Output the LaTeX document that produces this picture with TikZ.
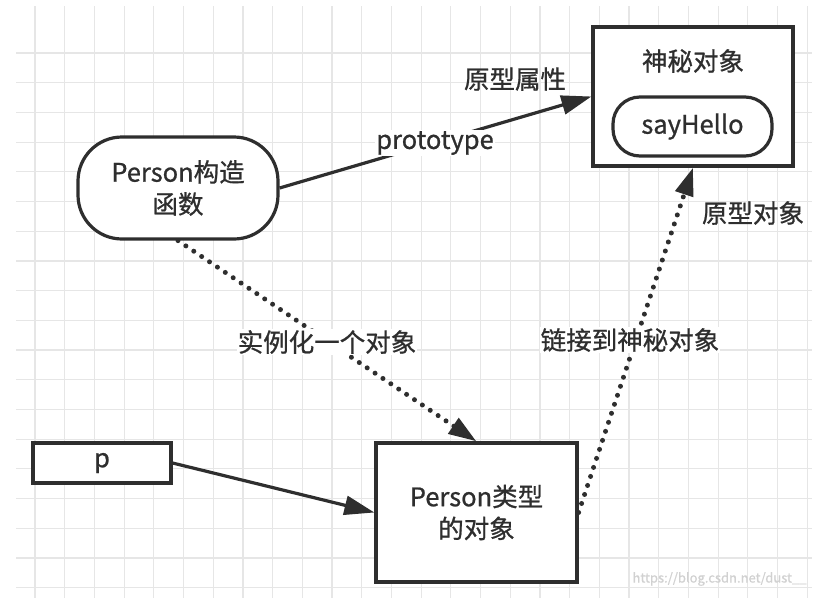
\documentclass[tikz,border=0pt]{standalone}
\usepackage{fontspec}
\setmainfont{Noto Sans CJK SC}[RawFeature={embolden=0.8}]
\usetikzlibrary{arrows.meta}
\definecolor{ink}{HTML}{2E2E2E}
\definecolor{gridc}{HTML}{E6E6E6}
\tikzset{
  boxsty/.style={draw=ink, line width=3.2pt, fill=white, inner sep=0pt, align=center, text=ink, font=\fontsize{25.5}{32}\selectfont},
  lbl/.style={text=ink, inner sep=1pt, font=\fontsize{25.5}{30}\selectfont},
  solidarrow/.style={draw=ink, line width=3.2pt, -{Triangle[length=30pt,width=19pt]}},
  dotarrow/.style={draw=ink, line width=5pt, line cap=round, dash pattern=on 0pt off 9.5pt, -{Triangle[length=28pt,width=18pt,line cap=butt]}},
}
\begin{document}
\begin{tikzpicture}[x=1pt,y=-1pt]
\useasboundingbox (0,0) rectangle (820,598);
% grid
\foreach \i in {0,...,26} {
  \draw[gridc, line width=1.2pt] ({35+29.7*\i},6) -- ({35+29.7*\i},598);
}
\foreach \j in {0,...,18} {
  \draw[gridc, line width=1.2pt] (16,{53+29.7*\j}) -- (812,{53+29.7*\j});
}
% nodes
\node[boxsty, minimum width=200pt, minimum height=102pt, rounded corners=44pt] (ctor) at (178,188) {Person构造\\函数};
\node[boxsty, minimum width=200pt, minimum height=139pt] (myst) at (693,96.5) {};
\node[lbl] (mysttitle) at (693,61) {神秘对象};
\node[boxsty, minimum width=159pt, minimum height=59pt, rounded corners=27pt] (hello) at (692.5,126.5) {sayHello};
\node[boxsty, minimum width=138pt, minimum height=40pt] (p) at (102,463) {p};
\node[boxsty, minimum width=201pt, minimum height=139pt] (obj) at (476.5,512.5) {Person类型\\的对象};
% connectors
\draw[solidarrow] (ctor.east) -- (myst.west);
\draw[dotarrow] (ctor.south) -- (obj.north);
\draw[solidarrow] (p.east) -- (obj.west);
\draw[dotarrow] (obj.east) -- (myst.south);
% labels
\node[lbl, fill=white] (lproto) at (435,143) {prototype};
\node[lbl] (lattr) at (515,79) {原型属性};
\node[lbl] (lpobj) at (753,213) {原型对象};
\node[lbl, fill=white] (linst) at (327,342) {实例化一个对象};
\node[lbl, fill=white] (llink) at (630,340) {链接到神秘对象};
\node[text=black!18, font=\fontsize{13}{15}\selectfont, anchor=east] (wm) at (810,579) {https://blog.csdn.net/dust\_\_};
\end{tikzpicture}
\end{document}
